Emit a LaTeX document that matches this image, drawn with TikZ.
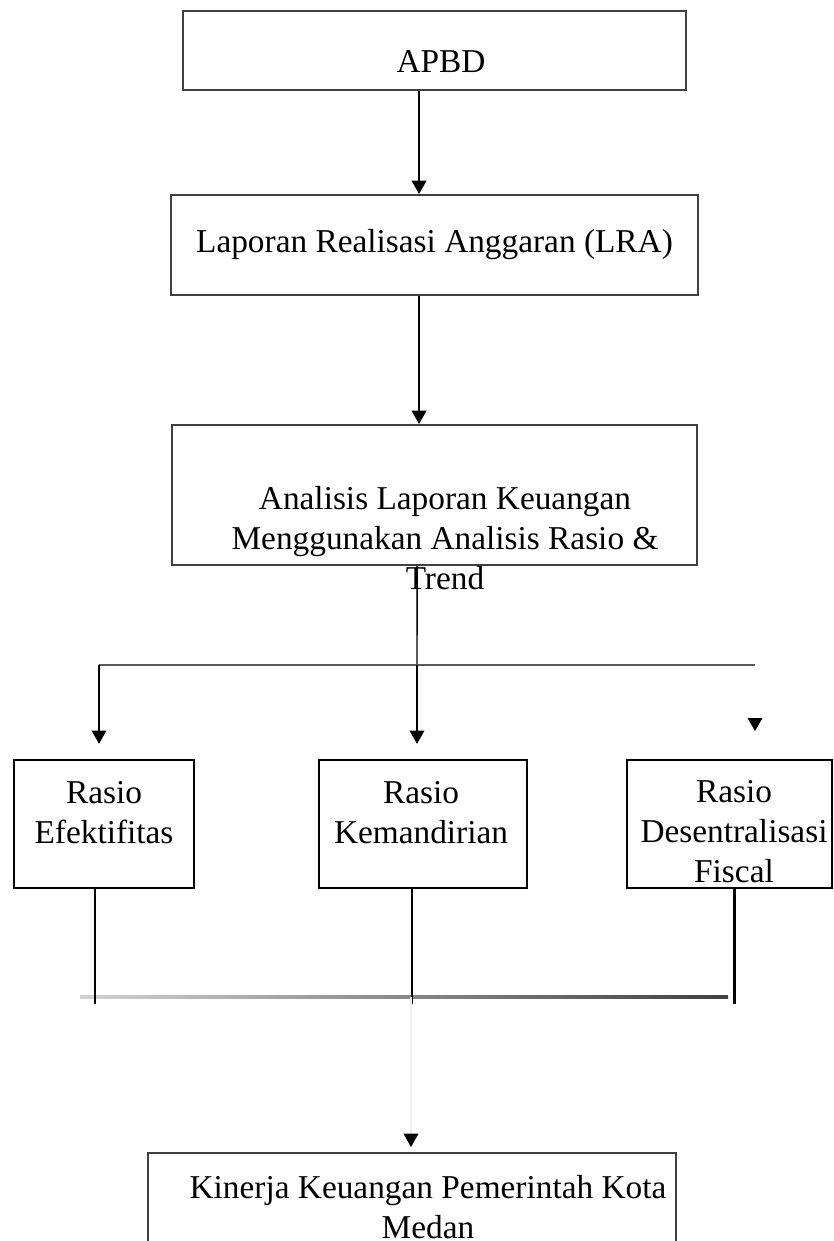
\documentclass[tikz,border=0pt]{standalone}
\usepackage{fontspec}
\setmainfont{Liberation Serif}
\usetikzlibrary{arrows.meta}

\tikzset{
	frame/.style={draw=black!75, line width=1.5pt, inner sep=0pt},
	ratiobox/.style={draw, line width=2.2pt, inner sep=0pt, minimum height=96pt},
	txt/.style={font=\fontsize{25}{30}\selectfont, align=center},
	arr/.style={-{Triangle[width=11pt,length=10pt]}, line width=1.1pt},
	stem/.style={line width=2.2pt},
}

\begin{document}
\begin{tikzpicture}[x=0.75pt,y=-0.75pt]
		\useasboundingbox (0,0) rectangle (833,1241);
		\clip (0,0) rectangle (833,1241);

		% >>> upper boxes
		\node[frame, minimum width=377.25pt, minimum height=59.25pt] (apbd) at (434.5,50.5) {};
		\node[txt] (apbdtext) at (441,62) {APBD};
		\node[frame, txt, minimum width=395.25pt, minimum height=75pt] (lra) at (434.5,245) {Laporan Realisasi Anggaran (LRA)};
		\node[frame, minimum width=393.75pt, minimum height=105pt] (anal) at (434.5,495) {};
		\node[txt] (analtext) at (445,538) {Analisis Laporan Keuangan\\Menggunakan Analisis Rasio \&\\Trend};
		% <<< upper boxes

		% >>> ratio boxes
		\node[ratiobox, minimum width=135pt] (efek) at (104,824) {};
		\node[txt] (efektext) at (104,813) {Rasio\\Efektifitas};
		\node[ratiobox, minimum width=156pt] (kemand) at (423,824) {};
		\node[txt] (kemandtext) at (421,813) {Rasio\\Kemandirian};
		\node[ratiobox, minimum width=153.75pt] (desen) at (729.5,824) {};
		\node[txt] (desentext) at (734,832) {Rasio\\Desentralisasi\\Fiscal};
		% <<< ratio boxes

		% >>> result box
		\node[frame, minimum width=396pt, minimum height=97.5pt] (kinerja) at (412,1218) {};
		\node[txt] (kinerjatext) at (428,1207) {Kinerja Keuangan Pemerintah Kota\\Medan};
		% <<< result box

		% >>> arrows
		\draw[arr] ([xshift=-11.6pt]apbd.south) -- ([xshift=-11.6pt]lra.north);
		\draw[arr] ([xshift=-11.6pt]lra.south) -- ([xshift=-11.6pt]anal.north);

		\coordinate (fork) at (417,665);
		\coordinate (forkL) at (99,665);
		\coordinate (forkR) at (755,665);
		\draw[line width=1.1pt] ([xshift=-13.1pt]anal.south) -- (fork);
		\draw[black!65, line width=2pt] (forkL) -- (forkR);
		\draw[arr, shorten >=11pt] (forkL) -- (forkL |- efek.north);
		\draw[arr, shorten >=11pt] (fork) -- (fork |- kemand.north);
		\coordinate (lonetip) at (755,731);
		\fill (lonetip) -- ++(-7.5,-13) -- ++(15,0) -- cycle;
		% <<< arrows

		% >>> join
		\coordinate (busL) at (80,997);
		\coordinate (busR) at (728,997);
		\coordinate (busmid) at (411,997);
		\shade[left color=gray!35, right color=black!75] ([yshift=1.4pt]busL) rectangle ([yshift=-1.4pt]busR);
		\draw[stem] ([xshift=-6.75pt]efek.south) -- ++(0,115);
		\draw[stem] ([xshift=-8.25pt]kemand.south) -- ++(0,115);
		\draw[stem] ([xshift=3.4pt]desen.south) -- ++(0,115);
		\draw[arr, draw=black!6, -{Triangle[width=11pt,length=10pt,color=black]}, shorten >=3.75pt] (busmid) -- (busmid |- kinerja.north);
		% <<< join

	\end{tikzpicture}
\end{document}
